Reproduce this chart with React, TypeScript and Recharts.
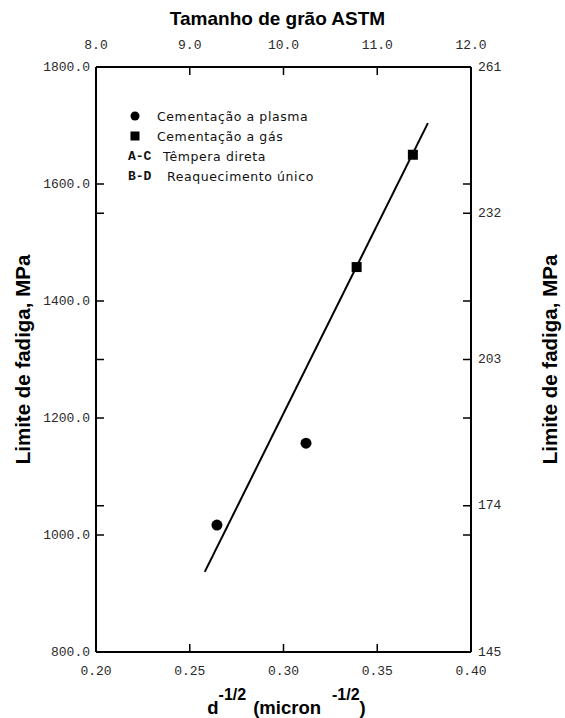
import { ScatterChart, Scatter, XAxis, YAxis, Legend } from 'recharts';

// values
const plasmaX = [0.2645, 0.312];
const plasmaY = [1017, 1157];
const gasX = [0.339, 0.369];
const gasY = [1458, 1650];
const fitX = [0.258, 0.377];
const fitY = [937, 1704];

const dTicks = [0.2, 0.25, 0.3, 0.35, 0.4];
const astmTicks = [8, 9, 10, 11, 12];
const mpaTicks = [800, 1000, 1200, 1400, 1600, 1800];
const ksiTicks = [145, 174, 203, 232, 261];

const legendMarks = ['circle', 'square', 'A-C', 'B-D'];
const legendNames = ['Cementação a plasma', 'Cementação a gás', 'Têmpera direta', 'Reaquecimento único'];

const toPoints = (xs: number[], ys: number[]) => xs.map((x, i) => ({ x, y: ys[i] }));
const plasma = toPoints(plasmaX, plasmaY);
const gas = toPoints(gasX, gasY);
const fit = toPoints(fitX, fitY);
// chart-level rows so the grain-size axis has something to build its scale from
const astmRows = astmTicks.map((astm) => ({ astm }));

// both vertical axes carry the tick marks of the other scale
const mpaLo = mpaTicks[0], mpaHi = mpaTicks[mpaTicks.length - 1];
const ksiLo = ksiTicks[0], ksiHi = ksiTicks[ksiTicks.length - 1];
const ksiToMpa = (v: number) => mpaLo + ((v - ksiLo) / (ksiHi - ksiLo)) * (mpaHi - mpaLo);
const mpaToKsi = (v: number) => ksiLo + ((v - mpaLo) / (mpaHi - mpaLo)) * (ksiHi - ksiLo);
const leftTicks = [...mpaTicks, ...ksiTicks.slice(1, -1).map(ksiToMpa)];
const rightTicks = [...ksiTicks, ...mpaTicks.slice(1, -1).map(mpaToKsi)];

const TICK_FONT = "'Liberation Mono', 'DejaVu Sans Mono', monospace";
const TITLE_FONT = "'Liberation Sans', Arial, sans-serif";
const TICK_COLOR = '#2a2a2a';
const TICK_LEN = 8;

function LeftTick({ x, y, payload }: any) {
  const labelled = mpaTicks.includes(payload.value);
  return (
    <g>
      <line x1={x} x2={x + TICK_LEN} y1={y} y2={y} stroke="#000" strokeWidth={1.5} />
      {labelled && (
        <text x={x - 6} y={y} textAnchor="end" dominantBaseline="central"
          fontFamily={TICK_FONT} fontSize={13} fill={TICK_COLOR}>
          {payload.value.toFixed(1)}
        </text>
      )}
    </g>
  );
}

function RightTick({ x, y, payload }: any) {
  const labelled = ksiTicks.includes(payload.value);
  return (
    <g>
      <line x1={x} x2={x - TICK_LEN} y1={y} y2={y} stroke="#000" strokeWidth={1.5} />
      {labelled && (
        <text x={x + 7} y={y} textAnchor="start" dominantBaseline="central"
          fontFamily={TICK_FONT} fontSize={13} fill={TICK_COLOR}>
          {payload.value}
        </text>
      )}
    </g>
  );
}

function BottomTick({ x, y, payload }: any) {
  return (
    <g>
      <line x1={x} x2={x} y1={y} y2={y - TICK_LEN} stroke="#000" strokeWidth={1.5} />
      <text x={x} y={y + 19} textAnchor="middle" dominantBaseline="central"
        fontFamily={TICK_FONT} fontSize={13} fill={TICK_COLOR}>
        {payload.value.toFixed(2)}
      </text>
    </g>
  );
}

function TopTick({ x, y, payload }: any) {
  return (
    <g>
      <line x1={x} x2={x} y1={y} y2={y + TICK_LEN} stroke="#000" strokeWidth={1.5} />
      <text x={x} y={y - 22} textAnchor="middle" dominantBaseline="central"
        fontFamily={TICK_FONT} fontSize={13} fill={TICK_COLOR}>
        {payload.value.toFixed(1)}
      </text>
    </g>
  );
}

function TopTitle({ viewBox }: any) {
  const cx = viewBox.x + viewBox.width / 2 - 6;
  return (
    <text x={cx} y={25} textAnchor="middle" fontFamily={TITLE_FONT} fontWeight="bold" fontSize={19} fill="#000">
      Tamanho de grão ASTM
    </text>
  );
}

function BottomTitle({ viewBox }: any) {
  const cx = viewBox.x + viewBox.width / 2 + 3;
  return (
    <text x={cx} y={714} textAnchor="middle" fontFamily={TITLE_FONT} fontWeight="bold" fontSize={18.5} fill="#000">
      <tspan>d</tspan>
      <tspan dy={-14} fontSize={16}>-1/2</tspan>
      <tspan dy={14} dx={7}>(micron</tspan>
      <tspan dy={-14} dx={11} fontSize={16}>-1/2</tspan>
      <tspan dy={14}>)</tspan>
    </text>
  );
}

function SideTitle({ viewBox, side }: any) {
  const cy = viewBox.y + viewBox.height / 2;
  const cx = side === 'left' ? 22 : 549;
  return (
    <text x={cx} y={cy} transform={`rotate(-90, ${cx}, ${cy})`} textAnchor="middle" dominantBaseline="central"
      fontFamily={TITLE_FONT} fontWeight="bold" fontSize={20.5} fill="#000">
      Limite de fadiga, MPa
    </text>
  );
}

const Dot = ({ cx, cy }: any) => <circle cx={cx} cy={cy} r={5.5} fill="#000" />;
const Square = ({ cx, cy }: any) => <rect x={cx - 5} y={cy - 5} width={10} height={10} fill="#000" />;
const NoMark = () => <g />;

function LegendBox() {
  return (
    <div style={{ fontFamily: "'DejaVu Sans', sans-serif", fontSize: 12.5, color: '#111' }}>
      {legendMarks.map((mark, i) => {
        const isCode = mark !== 'circle' && mark !== 'square';
        return (
          <div key={mark} style={{ display: 'flex', alignItems: 'center', height: 20, whiteSpace: 'nowrap' }}>
            <div style={{ width: isCode ? 37 : 31, display: 'flex', alignItems: 'center' }}>
              {mark === 'circle' && (
                <svg width={18} height={12}><circle cx={9} cy={6} r={4.5} fill="#000" /></svg>
              )}
              {mark === 'square' && (
                <svg width={18} height={12}><rect x={4.5} y={1.5} width={9} height={9} fill="#000" /></svg>
              )}
              {isCode && (
                <span style={{ fontFamily: TICK_FONT, fontSize: 13, fontWeight: 'bold', marginLeft: 2 }}>{mark}</span>
              )}
            </div>
            <span style={{ letterSpacing: 0.6, marginLeft: i === 3 ? 4 : 0 }}>{legendNames[i]}</span>
          </div>
        );
      })}
    </div>
  );
}

export default function App() {
  return (
    <div style={{ position: 'absolute', left: 0, top: 0, background: '#fff' }}>
      <ScatterChart width={565} height={718} data={astmRows} margin={{ top: 0, right: 0, bottom: 0, left: 0 }}>
        <XAxis xAxisId="bottom" dataKey="x" type="number" orientation="bottom" domain={[0.2, 0.4]}
          ticks={dTicks} interval={0} height={66} allowDataOverflow scale="linear"
          axisLine={{ stroke: '#000', strokeWidth: 2 }} tickLine={false} tickSize={0} tickMargin={0}
          tick={<BottomTick />} label={<BottomTitle />} />
        <XAxis xAxisId="top" dataKey="astm" type="number" orientation="top" domain={[8, 12]}
          ticks={astmTicks} interval={0} height={67} allowDataOverflow scale="linear"
          axisLine={{ stroke: '#000', strokeWidth: 2 }} tickLine={false} tickSize={0} tickMargin={0}
          tick={<TopTick />} label={<TopTitle />} />
        <YAxis yAxisId="left" dataKey="y" type="number" orientation="left" domain={[800, 1800]}
          ticks={leftTicks} interval={0} width={96} allowDataOverflow
          axisLine={{ stroke: '#000', strokeWidth: 2 }} tickLine={false} tickSize={0} tickMargin={0}
          tick={<LeftTick />} label={<SideTitle side="left" />} />
        <YAxis yAxisId="right" type="number" orientation="right" domain={[145, 261]}
          ticks={rightTicks} interval={0} width={94} allowDataOverflow
          axisLine={{ stroke: '#000', strokeWidth: 2 }} tickLine={false} tickSize={0} tickMargin={0}
          tick={<RightTick />} label={<SideTitle side="right" />} />
        <Legend layout="vertical" align="center" verticalAlign="middle" content={<LegendBox />}
          wrapperStyle={{ left: 126, top: 106, width: 260 }} />
        <Scatter name="fit" data={fit} xAxisId="bottom" yAxisId="left" shape={<NoMark />}
          line={{ stroke: '#000', strokeWidth: 2 }} legendType="none" isAnimationActive={false} />
        <Scatter name="Cementação a plasma" data={plasma} xAxisId="bottom" yAxisId="left"
          shape={<Dot />} isAnimationActive={false} />
        <Scatter name="Cementação a gás" data={gas} xAxisId="bottom" yAxisId="left"
          shape={<Square />} isAnimationActive={false} />
      </ScatterChart>
    </div>
  );
}
